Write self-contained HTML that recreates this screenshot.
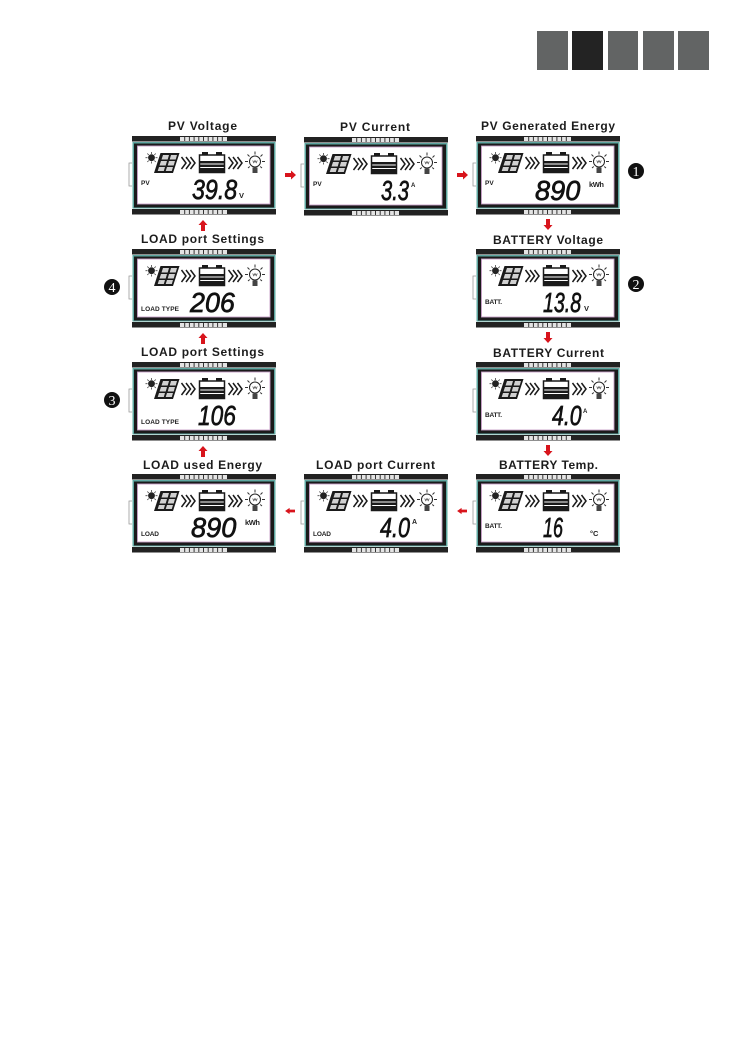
<!DOCTYPE html>
<html><head><meta charset="utf-8"><style>
html,body{margin:0;padding:0;background:#fff}
svg{display:block}
text{font-family:"Liberation Sans",sans-serif}
.t{font-weight:700;font-size:12px;fill:#1c1c1c}
.d{font-weight:400;font-style:italic;font-size:28px;fill:#111;stroke:#111;stroke-width:.7px}
.l{font-weight:700;font-size:6.5px;fill:#222}
.u{font-weight:700;font-size:7.5px;fill:#222}
.n{font-family:"Liberation Serif",serif;font-size:14px;fill:#fff;text-anchor:middle}
</style></head><body>
<svg width="737" height="1043" viewBox="0 0 737 1043" xmlns="http://www.w3.org/2000/svg">
<defs>
<g id="p">
<path d="M0 27H-3V50H0" fill="none" stroke="#999" stroke-width="0.8"/>
<rect x="0" y="0" width="144" height="5.500" fill="#222"/>
<rect x="0" y="73" width="144" height="5.500" fill="#222"/>
<path d="M48 1H95V5H48ZM48 74H95V78H48Z" fill="#e4e4e4"/>
<path d="M52.700 1v4M57.400 1v4M62.100 1v4M66.800 1v4M71.500 1v4M76.200 1v4M80.900 1v4M85.600 1v4M90.300 1v4M52.700 74v4M57.400 74v4M62.100 74v4M66.800 74v4M71.500 74v4M76.200 74v4M80.900 74v4M85.600 74v4M90.300 74v4" stroke="#333" stroke-width="1"/>
<rect x="0.500" y="6" width="143" height="66.500" fill="#5fa8a2"/>
<rect x="2" y="7.500" width="140" height="64" fill="#1a1a1a"/>
<rect x="5.500" y="10" width="132.500" height="58" fill="#fff" stroke="#c9a0c9" stroke-width="0.9"/>
<!-- sun -->
<circle cx="19.500" cy="21.700" r="3.400" fill="#222"/>
<path d="M19.500 16v2M19.500 25.500v2M13.500 21.700h2M23.500 21.700h2M15.300 17.500l1.500 1.500M22.300 24.500l1.500 1.500M15.300 26l1.500-1.500M22.300 19l1.500-1.500" stroke="#444" stroke-width="0.8"/>
<!-- solar panel -->
<path d="M28.500 17H47.500L41 37H22Z" fill="#1a1a1a"/>
<path d="M31 19H37L35.700 23.500H29.500ZM39 19H45L43.700 23.500H37.700ZM29 25H35L33.700 29.500H27.500ZM37 25H43L41.700 29.500H35.700ZM27 31H33L31.800 35H25.700ZM35 31H41L39.800 35H33.700Z" fill="#fff" opacity=".8"/>
<!-- chevrons -->
<g fill="none" stroke="#1a1a1a" stroke-width="1.500">
<path d="M49.500 21l4.500 6-4.500 6M54 21l4.500 6-4.500 6M58.500 21l4.500 6-4.500 6"/>
<path d="M96.500 21l4.500 6-4.500 6M101 21l4.500 6-4.500 6M105.500 21l4.500 6-4.500 6"/>
</g>
<!-- battery -->
<rect x="67.500" y="19" width="25" height="17.500" fill="#fff" stroke="#1a1a1a" stroke-width="1.500"/>
<rect x="70" y="16" width="6" height="3.200" fill="#1a1a1a"/>
<rect x="84" y="16" width="6" height="3.200" fill="#1a1a1a"/>
<rect x="68" y="25" width="24" height="2.500" fill="#1a1a1a"/>
<rect x="68" y="28.500" width="24" height="2.500" fill="#1a1a1a"/>
<rect x="68" y="32" width="24" height="4.500" fill="#1a1a1a"/>
<!-- bulb -->
<circle cx="123" cy="25.500" r="5.500" fill="#fff" stroke="#222" stroke-width="1"/>
<path d="M120.700 24.500l1.100 2.200 1.200-2.200 1.200 2.200 1.100-2.200" fill="none" stroke="#444" stroke-width=".7"/>
<rect x="120.500" y="31.500" width="5" height="5.500" fill="#444"/>
<path d="M123 15.500v3M115.500 18.500l2 2M130.500 18.500l-2 2M113 25.500h3M130 25.500h3M116 32l1.800-1.500M130 32l-1.800-1.500" stroke="#333" stroke-width="1"/>
</g>
<path id="ar" d="M0-2H6V-4.500L11 0 6 4.500V2H0Z" fill="#d8141c"/>
</defs>

<!-- header tabs -->
<rect x="537" y="31" width="31" height="39" fill="#626464"/>
<rect x="572" y="31" width="31" height="39" fill="#232323"/>
<rect x="608" y="31" width="30" height="39" fill="#626464"/>
<rect x="643" y="31" width="31" height="39" fill="#626464"/>
<rect x="678" y="31" width="31" height="39" fill="#626464"/>

<!-- panels -->
<use href="#p" x="132" y="136"/>
<use href="#p" x="304" y="137"/>
<use href="#p" x="476" y="136"/>
<use href="#p" x="132" y="249"/>
<use href="#p" x="476" y="249"/>
<use href="#p" x="132" y="362"/>
<use href="#p" x="476" y="362"/>
<use href="#p" x="132" y="474"/>
<use href="#p" x="304" y="474"/>
<use href="#p" x="476" y="474"/>

<!-- titles -->
<text class="t" x="168" y="130" textLength="69">PV Voltage</text>
<text class="t" x="340" y="131" textLength="70">PV Current</text>
<text class="t" x="481" y="130" textLength="134">PV Generated Energy</text>
<text class="t" x="141" y="243" textLength="123">LOAD port Settings</text>
<text class="t" x="493" y="244" textLength="110">BATTERY Voltage</text>
<text class="t" x="141" y="356" textLength="123">LOAD port Settings</text>
<text class="t" x="493" y="357" textLength="111">BATTERY Current</text>
<text class="t" x="143" y="469" textLength="119">LOAD used Energy</text>
<text class="t" x="316" y="469" textLength="119">LOAD port Current</text>
<text class="t" x="499" y="469" textLength="99">BATTERY Temp.</text>

<!-- readouts -->
<text class="d" transform="translate(192 199) scale(.83 1)">39.8</text>
<text class="u" x="239" y="198">V</text>
<text class="l" x="141" y="185">PV</text>

<text class="d" transform="translate(381 200) scale(.72 1)">3.3</text>
<text class="u" x="411" y="187" style="font-size:6px">A</text>
<text class="l" x="313" y="186">PV</text>

<text class="d" transform="translate(535 200) scale(.97 1)">890</text>
<text class="u" x="589" y="187" textLength="15">kWh</text>
<text class="l" x="485" y="185">PV</text>

<text class="d" transform="translate(190 312) scale(.96 1)">206</text>
<text class="l" x="141" y="311" textLength="38">LOAD TYPE</text>

<text class="d" transform="translate(543 312) scale(.70 1)">13.8</text>
<text class="u" x="584" y="311">V</text>
<text class="l" x="485" y="304" textLength="17">BATT.</text>

<text class="d" transform="translate(198 425) scale(.81 1)">106</text>
<text class="l" x="141" y="424" textLength="38">LOAD TYPE</text>

<text class="d" transform="translate(552 425) scale(.76 1)">4.0</text>
<text class="u" x="583" y="413" style="font-size:6px">A</text>
<text class="l" x="485" y="417" textLength="17">BATT.</text>

<text class="d" transform="translate(191 537) scale(.97 1)">890</text>
<text class="u" x="245" y="525" textLength="15">kWh</text>
<text class="l" x="141" y="536" textLength="18">LOAD</text>

<text class="d" transform="translate(380 537) scale(.77 1)">4.0</text>
<text class="u" x="412" y="524" style="font-size:7px">A</text>
<text class="l" x="313" y="536" textLength="18">LOAD</text>

<text class="d" transform="translate(543 537) scale(.64 1)">16</text>
<text class="u" x="590" y="536">°C</text>
<text class="l" x="485" y="528" textLength="17">BATT.</text>

<!-- arrows -->
<use href="#ar" transform="translate(285 175)"/>
<use href="#ar" transform="translate(457 175)"/>
<use href="#ar" transform="translate(548 219) rotate(90)"/>
<use href="#ar" transform="translate(548 332) rotate(90)"/>
<use href="#ar" transform="translate(548 445) rotate(90)"/>
<use href="#ar" transform="translate(203 231) rotate(-90)"/>
<use href="#ar" transform="translate(203 344) rotate(-90)"/>
<use href="#ar" transform="translate(203 457) rotate(-90)"/>
<use href="#ar" transform="translate(467 511) rotate(180) scale(.9 .7)"/>
<use href="#ar" transform="translate(295 511) rotate(180) scale(.9 .7)"/>

<!-- numbered markers -->
<circle cx="636" cy="171" r="8" fill="#111"/><text class="n" x="636" y="176">1</text>
<circle cx="636" cy="284" r="8" fill="#111"/><text class="n" x="636" y="289">2</text>
<circle cx="112" cy="400" r="8" fill="#111"/><text class="n" x="112" y="405">3</text>
<circle cx="112" cy="287" r="8" fill="#111"/><text class="n" x="112" y="292">4</text>
</svg>
</body></html>
